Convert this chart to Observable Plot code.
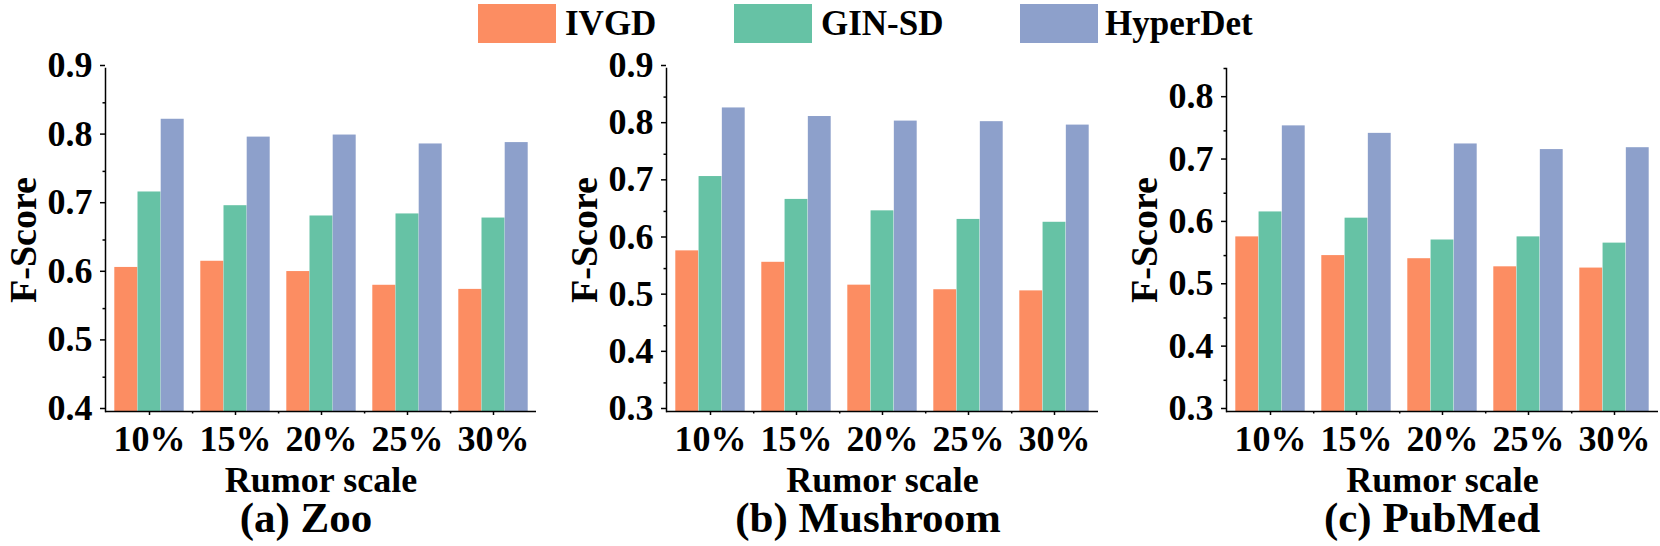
<!DOCTYPE html>
<html>
<head>
<meta charset="utf-8">
<script src="https://cdn.jsdelivr.net/npm/d3@7"></script>
<script src="https://cdn.jsdelivr.net/npm/@observablehq/plot@0.6"></script>
<style>
  html, body { margin: 0; padding: 0; background: #fff; }
  #wrap { position: relative; width: 1660px; height: 546px; overflow: hidden;
          font-family: "Liberation Serif", "Times New Roman", serif; font-weight: bold; color: #000; }
  .panel { position: absolute; top: 0; }
  .sw { position: absolute; top: 4px; width: 78px; height: 39px; }
  .lt { position: absolute; top: 4px; height: 39px; line-height: 39px; font-size: 35px; white-space: nowrap; }
  .cap { position: absolute; top: 500px; width: 400px; text-align: center; font-size: 43px; line-height: 36px; white-space: nowrap; }
</style>
</head>
<body>
<div id="wrap"></div>
<script>
// ---- data ----
const categories = ["10%", "15%", "20%", "25%", "30%"];
const methods = ["IVGD", "GIN-SD", "HyperDet"];
const colors = ["#fc8d62", "#66c2a5", "#8da0cb"];

const zooIVGD  = [0.610, 0.619, 0.604, 0.584, 0.578];
const zooGIN   = [0.720, 0.700, 0.685, 0.688, 0.682];
const zooHyper = [0.826, 0.800, 0.803, 0.790, 0.792];

const mushIVGD  = [0.581, 0.561, 0.521, 0.513, 0.511];
const mushGIN   = [0.711, 0.671, 0.651, 0.636, 0.631];
const mushHyper = [0.831, 0.816, 0.808, 0.807, 0.801];

const pubIVGD  = [0.580, 0.550, 0.545, 0.532, 0.530];
const pubGIN   = [0.620, 0.610, 0.575, 0.580, 0.570];
const pubHyper = [0.758, 0.746, 0.729, 0.720, 0.723];

const zooTicks = [0.4, 0.5, 0.6, 0.7, 0.8, 0.9];
const zooMinor = [0.45, 0.55, 0.65, 0.75, 0.85];
const mushTicks = [0.3, 0.4, 0.5, 0.6, 0.7, 0.8, 0.9];
const mushMinor = [0.35, 0.45, 0.55, 0.65, 0.75, 0.85];
const pubTicks = [0.3, 0.4, 0.5, 0.6, 0.7, 0.8];
const pubMinor = [0.35, 0.45, 0.55, 0.65, 0.75, 0.85];

const yLabel = "F-Score";
const xLabel = "Rumor scale";
const captions = ["(a) Zoo", "(b) Mushroom", "(c) PubMed"];

// ---- layout ----
const FONT = '"Liberation Serif", "Times New Roman", serif';
const H = 500, MT = 68, MB = 89;
const panels = [
  {left: 0,    width: 538, ml: 105, domain: [0.4, 0.9],  ticks: zooTicks,  minor: zooMinor,  series: [zooIVGD, zooGIN, zooHyper],    capCenter: 306},
  {left: 560,  width: 540, ml: 106, domain: [0.3, 0.9],  ticks: mushTicks, minor: mushMinor, series: [mushIVGD, mushGIN, mushHyper], capCenter: 868},
  {left: 1120, width: 540, ml: 106, domain: [0.3, 0.85], ticks: pubTicks,  minor: pubMinor,  series: [pubIVGD, pubGIN, pubHyper],    capCenter: 1432}
];

const wrap = document.getElementById("wrap");

panels.forEach((p, pi) => {
  const mr = 2;
  const plotW = p.width - p.ml - mr;
  const plotH = H - MT - MB;
  const step = plotW / categories.length;
  const pad = 8.3;
  const bw = (step - 2 * pad) / 3;

  const rows = [];
  methods.forEach((m, mi) => categories.forEach((c, ci) => rows.push({cat: c, method: m, value: p.series[mi][ci]})));

  const bars = methods.map((m, mi) =>
    Plot.barY(rows.filter(r => r.method === m), {
      x: "cat", y1: p.domain[0], y2: "value", fill: colors[mi],
      insetLeft: pad + mi * bw, insetRight: pad + (2 - mi) * bw
    })
  );

  const chart = Plot.plot({
    width: p.width, height: H,
    marginLeft: p.ml, marginRight: mr, marginTop: MT, marginBottom: MB,
    style: {fontFamily: FONT, fontWeight: "bold", color: "#000", background: "transparent", overflow: "visible"},
    x: {type: "band", domain: categories, padding: 0, axis: null},
    y: {domain: p.domain, axis: null},
    marks: [
      ...bars,
      Plot.axisY({ticks: p.ticks, tickSize: 5, tickPadding: 8, fontSize: 36, dy: -3, tickFormat: d3.format(".1f"), label: null, strokeWidth: 1.5}),
      Plot.axisY({ticks: p.minor, tickSize: 2.5, tickFormat: () => "", label: null, strokeWidth: 1.5}),
      Plot.axisX({tickSize: 4, tickPadding: 10, fontSize: 36, label: null, strokeWidth: 1.5}),
      Plot.ruleX(categories.slice(0, categories.length - 1), {dx: step / 2, insetTop: plotH, insetBottom: -2.5, strokeWidth: 1.5}),
      Plot.ruleY([p.domain[0]], {strokeWidth: 1.5}),
      Plot.frame({anchor: "left", strokeWidth: 1.5}),
      Plot.text([yLabel], {text: d => d, frameAnchor: "middle", dx: -(plotW / 2 + 82), rotate: -90, fontSize: 38, textAnchor: "middle", lineAnchor: "middle"}),
      Plot.text([xLabel], {text: d => d, frameAnchor: "bottom", dy: 68.5, fontSize: 36, textAnchor: "middle", lineAnchor: "middle"})
    ]
  });

  const div = document.createElement("div");
  div.className = "panel";
  div.style.left = p.left + "px";
  div.appendChild(chart);
  wrap.appendChild(div);

  const cap = document.createElement("div");
  cap.className = "cap";
  cap.style.left = (p.capCenter - 200) + "px";
  cap.textContent = captions[pi];
  wrap.appendChild(cap);
});

// ---- legend ----
const legendSw = [478, 734, 1020];
const legendTx = [565, 821, 1105];
methods.forEach((m, i) => {
  const s = document.createElement("div");
  s.className = "sw";
  s.style.left = legendSw[i] + "px";
  s.style.background = colors[i];
  wrap.appendChild(s);
  const t = document.createElement("div");
  t.className = "lt";
  t.style.left = legendTx[i] + "px";
  t.textContent = m;
  wrap.appendChild(t);
});
</script>
</body>
</html>
